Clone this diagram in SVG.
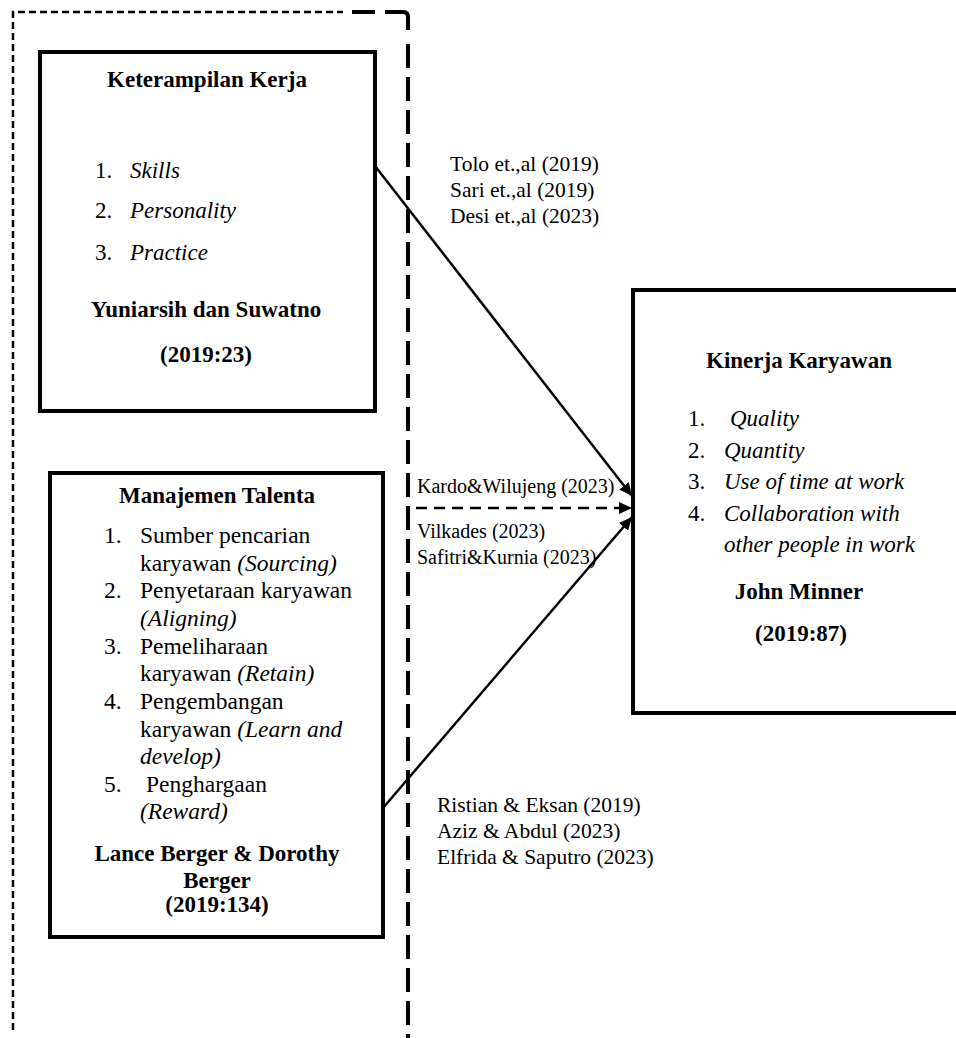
<svg xmlns="http://www.w3.org/2000/svg" width="956" height="1038" viewBox="0 0 956 1038" font-family="Liberation Serif, Times New Roman, serif">
<style>
.t{font-size:23px;font-weight:bold;text-anchor:middle}
.b{font-size:23px}
.bb{font-size:23.5px}
.i{font-style:italic}
.l{font-size:21.5px}
.m{font-size:20px}
.box{fill:#fff;stroke:#000;stroke-width:4}
.con{stroke:#000;stroke-width:2.5;fill:none}
</style>
<defs>
<marker id="ah" markerUnits="userSpaceOnUse" markerWidth="14" markerHeight="12" refX="13" refY="6" orient="auto">
<path d="M0,0 L13,6 L0,12 Z" fill="#000"/>
</marker>
</defs>
<g id="frame" fill="none" stroke="#000">
<path d="M13,1030 L13,12 L343,12" stroke-width="2.5" stroke-dasharray="7,4"/>
<path d="M352,12 L375,12" stroke-width="4"/>
<path d="M385,12 L403,12 Q408,12 408,17 L408,30" stroke-width="4"/>
<path d="M408,44 L408,1038" stroke-width="4" stroke-dasharray="24,9"/>
</g>
<g id="connectors">
<line class="con" x1="375" y1="166" x2="632" y2="496" marker-end="url(#ah)"/>
<line class="con" x1="416" y1="508" x2="632" y2="508" stroke-width="3.5" stroke-dasharray="11,7" marker-end="url(#ah)"/>
<line class="con" x1="383" y1="808" x2="632" y2="517" marker-end="url(#ah)"/>
<text class="l" x="450" y="171">Tolo et.,al (2019)</text>
<text class="l" x="450" y="197">Sari et.,al (2019)</text>
<text class="l" x="450" y="223">Desi et.,al (2023)</text>
<text class="m" x="417" y="493">Kardo&amp;Wilujeng (2023)</text>
<text class="m" x="417" y="538">Vilkades (2023)</text>
<text class="m" x="417" y="564">Safitri&amp;Kurnia (2023)</text>
<text class="l" x="437" y="812">Ristian &amp; Eksan (2019)</text>
<text class="l" x="437" y="838">Aziz &amp; Abdul (2023)</text>
<text class="l" x="437" y="864">Elfrida &amp; Saputro (2023)</text>
</g>
<g id="keterampilan">
<rect class="box" x="40" y="52" width="335" height="359"/>
<text class="t" x="207" y="87">Keterampilan Kerja</text>
<text class="b" x="95" y="178">1.</text><text class="b i" x="130" y="178">Skills</text>
<text class="b" x="95" y="218">2.</text><text class="b i" x="130" y="218">Personality</text>
<text class="b" x="95" y="260">3.</text><text class="b i" x="130" y="260">Practice</text>
<text class="t" x="206" y="317">Yuniarsih dan Suwatno</text>
<text class="t" x="206" y="362">(2019:23)</text>
</g>
<g id="talenta">
<rect class="box" x="50" y="473" width="333" height="464"/>
<text class="t" x="217" y="503">Manajemen Talenta</text>
<text class="bb" x="104" y="543">1.</text><text class="bb" x="140" y="543">Sumber pencarian</text>
<text class="bb" x="140" y="571">karyawan <tspan class="i">(Sourcing)</tspan></text>
<text class="bb" x="104" y="598">2.</text><text class="bb" x="140" y="598">Penyetaraan karyawan</text>
<text class="bb i" x="140" y="626">(Aligning)</text>
<text class="bb" x="104" y="654">3.</text><text class="bb" x="140" y="654">Pemeliharaan</text>
<text class="bb" x="140" y="681">karyawan <tspan class="i">(Retain)</tspan></text>
<text class="bb" x="104" y="709">4.</text><text class="bb" x="140" y="709">Pengembangan</text>
<text class="bb" x="140" y="737">karyawan <tspan class="i">(Learn and</tspan></text>
<text class="bb i" x="140" y="764">develop)</text>
<text class="bb" x="104" y="792">5.</text><text class="bb" x="146" y="792">Penghargaan</text>
<text class="bb i" x="140" y="819">(Reward)</text>
<text class="t" x="217" y="861">Lance Berger &amp; Dorothy</text>
<text class="t" x="217" y="888">Berger</text>
<text class="t" x="217" y="912">(2019:134)</text>
</g>
<g id="kinerja">
<rect class="box" x="633" y="290" width="340" height="423"/>
<text class="t" x="799" y="368">Kinerja Karyawan</text>
<text class="b" x="688" y="426">1.</text><text class="b i" x="730" y="426">Quality</text>
<text class="b" x="688" y="458">2.</text><text class="b i" x="724" y="458">Quantity</text>
<text class="b" x="688" y="489">3.</text><text class="b i" x="724" y="489">Use of time at work</text>
<text class="b" x="688" y="521">4.</text><text class="b i" x="724" y="521">Collaboration with</text>
<text class="b i" x="724" y="552">other people in work</text>
<text class="t" x="799" y="599">John Minner</text>
<text class="t" x="801" y="641">(2019:87)</text>
</g>
</svg>
